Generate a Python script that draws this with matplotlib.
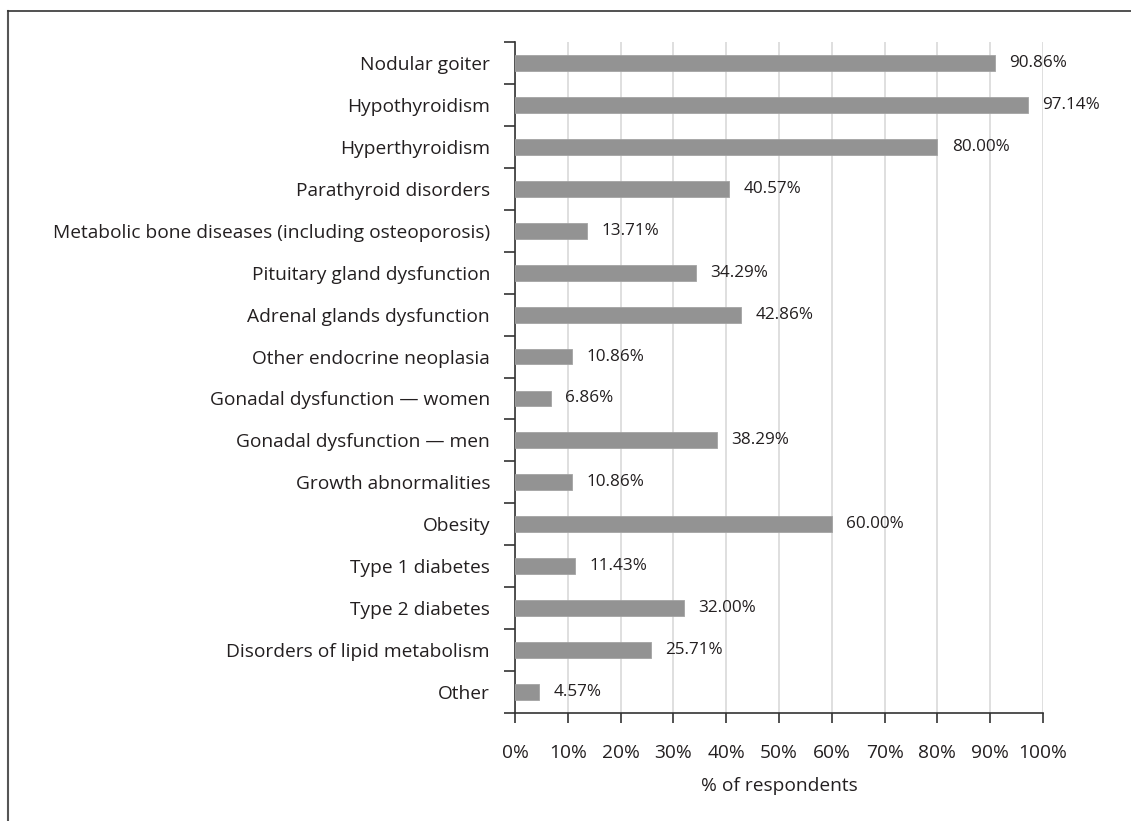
import numpy as np
import matplotlib
matplotlib.use("Agg")
import matplotlib.pyplot as plt
from matplotlib.lines import Line2D

categorias = [
    "Nodular goiter",
    "Hypothyroidism",
    "Hyperthyroidism",
    "Parathyroid disorders",
    "Metabolic bone diseases (including osteoporosis)",
    "Pituitary gland dysfunction",
    "Adrenal glands dysfunction",
    "Other endocrine neoplasia",
    "Gonadal dysfunction \u2014 women",
    "Gonadal dysfunction \u2014 men",
    "Growth abnormalities",
    "Obesity",
    "Type 1 diabetes",
    "Type 2 diabetes",
    "Disorders of lipid metabolism",
    "Other",
]
porcentajes = [90.86, 97.14, 80.00, 40.57, 13.71, 34.29, 42.86, 10.86,
               6.86, 38.29, 10.86, 60.00, 11.43, 32.00, 25.71, 4.57]
xticks = list(range(0, 101, 10))
xtick_labels = [f"{t}%" for t in xticks]

plt.rcParams['font.family'] = ['Open Sans', 'DejaVu Sans']
texto = '#231f20'

fig = plt.figure(figsize=(11.31, 8.21), dpi=100)
ax = fig.add_axes([515 / 1131, 1 - 713 / 821, 528 / 1131, (713 - 42) / 821])

y = np.arange(len(categorias))
ax.barh(y, porcentajes, height=0.38, color='#939393', edgecolor='#a3a3a3',
        linewidth=0.6, zorder=3)

for yi, v in zip(y, porcentajes):
    ax.text(v + 2.7, yi, f"{v:.2f}%", va='center', ha='left', fontsize=12.3,
            color=texto, zorder=4)

ax.set_xlim(0, 100)
ax.set_ylim(len(categorias) - 0.5, -0.5)
ax.set_xticks(xticks)
ax.set_xticklabels(xtick_labels, fontsize=13.8, color=texto)
ax.set_yticks(y)
ax.set_yticklabels(categorias, fontsize=13.8, color=texto)
ax.set_yticks(np.arange(len(categorias) + 1) - 0.5, minor=True)

ax.tick_params(axis='y', which='major', length=0, pad=18)
ax.tick_params(axis='y', which='minor', length=8, width=1.2, color='#333333')
ax.tick_params(axis='x', length=7, width=1.2, color='#333333', pad=15)

ax.xaxis.grid(True, color='#d9d9d9', linewidth=1.2, zorder=0)
ax.set_axisbelow(True)

for s in ['top', 'right']:
    ax.spines[s].set_visible(False)
for s in ['left', 'bottom']:
    ax.spines[s].set_color('#333333')
    ax.spines[s].set_linewidth(1.2)

ax.set_xlabel("% of respondents", fontsize=13.8, color=texto, labelpad=11)

# marco superior e izquierdo de la figura
fig.add_artist(Line2D([8 / 1131, 8 / 1131], [0, 1 - 11 / 821],
                      transform=fig.transFigure, color='#555555', linewidth=1.5))
fig.add_artist(Line2D([8 / 1131, 1], [1 - 11 / 821, 1 - 11 / 821],
                      transform=fig.transFigure, color='#333333', linewidth=1.2))

fig.savefig("out.png", dpi=100)
